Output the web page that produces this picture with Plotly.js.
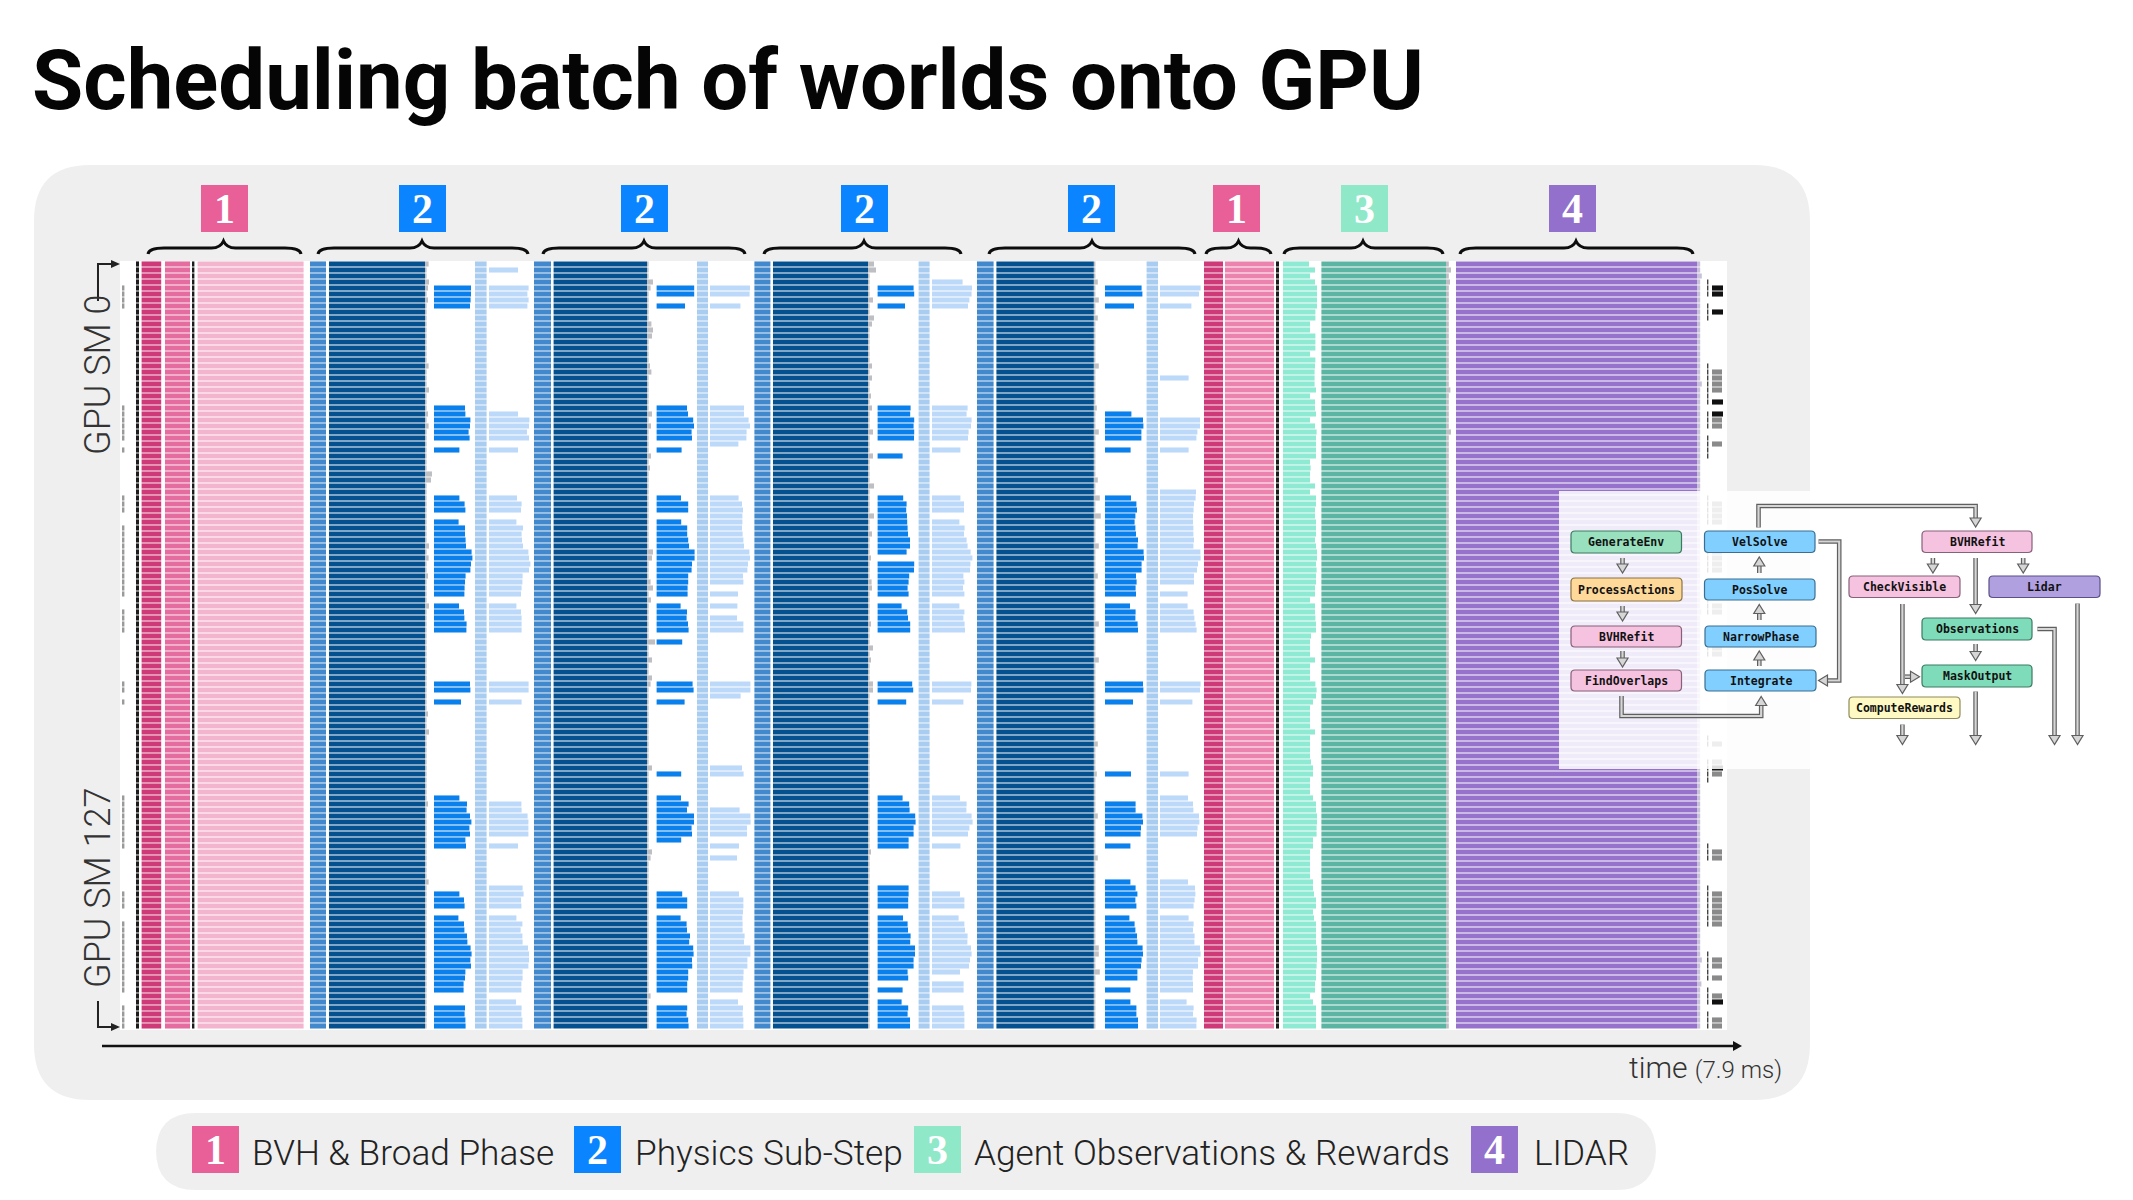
<!DOCTYPE html>
<html><head><meta charset="utf-8">
<script src="https://cdn.plot.ly/plotly-3.0.1.min.js"></script>
<style>html,body{margin:0;padding:0;background:#fff}#c{width:2133px;height:1200px}</style>
</head><body><div id="c"></div>
<script>
// Time is in microseconds, rows are GPU SM indices 0..127.
const sm = [];for(let i=0;i<128;i++)sm.push(i);
// ---- phases that look uniform over all rows: [start, duration, colour key]
const stripeA=[80,15], darkPink1=[108,98], pink1=[225,125], stripeB=[360,12], lightPink=[388,530];
const medBlue1=[950,80], darkBlue1=[1045,480], faint1=[1775,58];
const medBlue2=[2070,85], darkBlue2=[2168,467], faint2=[2885,55];
const medBlue3=[3172,80], darkBlue3=[3265,475], faint3=[3993,55];
const medBlue4=[4285,83], darkBlue4=[4382,487], faint4=[5133,57];
const darkPink2=[5420,95], pink2=[5525,245], stripeC=[5780,15];
const tealDark=[6007,623], purple=[6680,1205];
// ---- sub-step starts
const bright1Start=1570, light1Start=1845, bright2Start=2683, light2Start=2950;
const bright3Start=3788, light3Start=4060, bright4Start=4925, light4Start=5200, tealLightStart=5815;
// ---- per-row durations
const bright1Rows=[4,5,6,7,24,25,26,27,28,29,31,39,40,41,43,44,45,46,47,48,49,50,51,52,53,54,55,57,58,59,60,61,70,71,73,89,90,91,92,93,94,95,96,97,105,106,107,109,110,111,112,113,114,115,116,117,118,119,120,121,124,125,126,127];
const bright1Dur=[185,185,183,180,155,157,182,180,173,178,127,127,153,157,123,155,155,158,160,188,192,185,182,158,155,153,152,125,150,152,163,162,180,182,135,127,165,163,180,187,177,180,157,160,127,150,153,122,150,152,165,167,183,188,182,185,157,155,148,148,155,153,157,158];
const light1Rows=[1,4,5,6,7,25,26,27,28,29,31,39,40,41,43,44,45,46,47,48,49,50,51,52,53,54,55,57,58,59,60,61,70,71,73,90,91,92,93,94,95,97,104,105,106,107,109,110,111,112,113,114,115,116,117,118,119,120,121,123,124,125,126,127];
const light1Dur=[145,198,192,198,192,145,202,200,190,200,145,140,163,160,137,170,163,165,170,197,200,207,200,168,167,163,160,137,160,163,163,163,198,198,163,162,163,193,197,197,197,145,168,173,160,162,137,167,158,167,168,195,200,200,197,168,168,162,162,135,163,162,167,167];
const bright2Rows=[4,5,7,24,25,26,27,28,29,31,39,40,41,43,44,45,46,47,48,49,50,51,52,53,54,55,57,58,59,60,61,63,70,71,73,85,89,90,91,92,93,94,95,96,105,106,107,109,110,111,112,113,114,115,116,117,118,119,120,121,124,125,126,127];
const bright2Dur=[188,188,142,152,157,183,187,175,177,125,122,158,158,123,153,153,158,162,190,190,177,175,158,158,155,155,120,152,150,157,160,128,180,185,140,123,122,160,152,187,187,175,177,123,128,153,153,120,150,152,167,163,183,185,177,178,158,158,153,153,153,150,158,160];
const light2Rows=[4,5,7,24,25,26,27,28,29,30,39,40,41,42,43,44,45,46,47,48,49,50,51,52,53,55,57,59,60,61,70,71,72,84,85,91,92,93,94,95,97,99,105,106,107,108,109,110,111,112,113,114,115,116,117,118,119,120,121,123,124,125,126,127];
const light2Dur=[200,198,152,170,170,193,200,183,182,142,143,160,165,162,162,160,163,167,170,197,200,190,187,165,167,140,137,135,167,167,202,202,153,160,168,148,202,203,185,185,145,135,145,167,167,165,162,163,163,173,170,202,202,187,187,168,167,163,163,140,165,163,167,167];
const bright3Rows=[4,5,7,24,25,26,27,28,29,32,39,40,41,42,43,44,45,46,47,48,50,51,52,53,54,55,57,58,59,60,61,70,71,73,89,90,91,92,93,94,95,96,97,104,105,106,107,109,110,111,112,113,114,115,116,117,118,119,121,123,124,125,126,127];
const bright3Dur=[180,183,137,165,163,183,180,183,182,125,128,145,143,147,148,150,152,162,162,145,183,182,158,155,150,155,120,148,152,163,163,173,178,143,125,158,160,188,190,180,180,155,155,155,155,153,153,127,150,152,165,163,187,187,180,180,150,153,125,120,153,150,162,162];
const light3Rows=[3,4,5,6,7,24,25,26,27,28,29,31,39,40,41,43,44,45,46,47,48,49,50,51,52,53,54,55,57,58,59,60,61,70,71,73,89,90,91,92,93,94,95,97,105,106,107,109,110,111,112,113,114,115,116,117,118,120,121,124,125,126,127];
const light3Dur=[153,200,198,187,180,178,173,198,195,183,180,142,142,160,160,137,163,160,173,178,193,202,192,190,157,162,155,162,137,162,157,163,165,197,195,157,140,173,172,198,203,187,180,142,140,162,162,133,162,165,178,177,195,198,190,185,140,158,158,157,162,162,162];
const bright4Rows=[4,5,7,25,26,27,28,29,31,39,40,41,42,43,44,45,46,47,48,49,50,51,52,53,54,55,57,58,59,60,61,70,71,73,85,90,91,92,93,94,95,97,103,104,105,106,107,109,110,111,112,113,114,115,116,117,118,119,121,123,124,125,126,127];
const bright4Dur=[183,187,145,132,190,192,182,182,128,130,157,160,152,148,152,155,165,163,193,195,183,183,155,158,153,155,125,153,152,163,165,190,192,140,130,153,153,187,190,180,178,127,127,153,162,152,157,122,148,152,160,162,188,190,183,180,162,162,127,127,157,157,165,165];
const light4Rows=[4,5,7,19,26,27,28,29,31,38,39,40,41,42,43,44,45,46,47,48,49,50,51,52,53,55,57,58,59,60,61,70,71,73,85,89,90,91,92,93,94,95,103,104,105,106,107,109,110,111,112,113,114,115,116,117,118,119,120,121,123,124,125,126,127];
const light4Dur=[203,195,157,143,200,200,187,182,143,180,178,170,168,165,165,167,167,170,167,202,203,190,185,170,170,138,138,168,172,178,183,203,200,162,143,140,165,167,195,197,188,185,140,175,177,173,168,143,168,165,173,172,200,203,190,190,165,163,165,165,133,168,165,183,182];
const tealLightDur=[130,160,135,160,170,170,170,170,162,162,135,135,162,162,162,135,162,160,158,158,158,165,135,160,160,165,135,160,168,165,165,165,165,135,138,135,135,160,135,165,165,160,160,165,165,165,160,165,170,170,165,168,165,165,160,160,135,160,160,162,165,165,140,135,135,135,160,135,135,135,162,168,165,150,135,135,135,135,160,135,135,135,135,140,150,150,135,135,135,150,165,165,170,170,168,168,150,150,135,135,135,135,135,150,150,155,165,165,150,155,165,165,165,165,170,170,170,168,165,165,160,160,135,150,165,165,165,165];
// grey row-end tails seen past the dense bars
const tail2Rows=[3,4,10,11,12,17,18,25,27,32,34,48,49,53,54,56,63,66,69,70,84,98,99,122];
const tail2Dur=[30,18,22,30,25,15,22,25,20,20,15,30,25,18,30,20,40,25,25,18,25,25,18,18];
const tail1Rows=[0,3,4,6,17,21,25,27,35,36,47,49,52,57,75,78,90,103];
const tail1Dur=[18,20,15,15,18,20,15,18,35,30,20,18,15,20,15,20,15,18];
const tail3Rows=[0,1,6,9,10,17,19,22,24,28,32,37,42,45,49,53,54,60,64,66,70,71,98];
const tail3Dur=[30,40,25,30,20,20,20,15,20,25,25,30,30,20,15,18,20,15,25,15,25,25,15];
const tail4Rows=[3,6,9,17,24,28,36,39,42,47,52,60,66,80,85,92,99,114,115,118];
const tail4Dur=[20,25,20,25,15,25,20,30,35,25,20,25,25,20,15,20,20,25,25,30];
const leftTickRows=[4,5,6,7,24,25,26,27,28,29,31,39,40,41,44,45,46,47,48,49,50,51,52,53,54,55,58,59,60,61,70,71,73,89,90,91,92,93,94,95,96,97,105,106,107,110,111,112,113,114,115,116,117,118,119,120,121,124,125,126,127];
const rightDarkRows=[4,5,8,23,25,84,123];
const rightGreyRows=[18,19,20,21,26,27,30,40,41,42,43,48,49,50,51,57,58,64,65,80,83,85,98,99,105,106,107,108,109,110,116,117,119,122,126,127];
const rightDashRows=[3,4,5,7,8,9,17,18,19,20,21,22,23,25,26,27,29,30,31,32,39,40,41,42,43,47,48,49,50,51,56,57,58,63,64,65,79,80,83,84,85,86,97,98,99,104,105,106,107,108,109,110,115,116,117,118,119,121,122,123,125,126,127];
// ---- labels
const badges=['1','2','2','2','2','1','3','4'];
const legendLabels=['BVH & Broad Phase','Physics Sub-Step','Agent Observations & Rewards','LIDAR'];
const nodes=['GenerateEnv','ProcessActions','BVHRefit','FindOverlaps','VelSolve','PosSolve','NarrowPhase','Integrate','BVHRefit','CheckVisible','Lidar','Observations','MaskOutput','ComputeRewards'];

// ---- colours
const C={black:'#1c1c1c',dpink:'#CE3A78',pink:'#E56C9F',lpink:'#F3B4CE',med:'#4188CC',dark:'#05508F',bright:'#0A80EC',faint:'#A9CDF1',light:'#BDD9F9',
 tl:'#8EEAD3',td:'#5CB5A2',pur:'#9672CC',tail:'#BDBFC2',ptail:'#C9C0DA',b1:'#E86097',b2:'#0A84FF',b3:'#8FE8C8',b4:'#9370CB',gray:'#EFEFEF'};

const traces=[];
function seg(rows,base,dur,color){
  traces.push({type:'bar',orientation:'h',y:rows,x:dur,base:base,marker:{color:color,line:{width:0}},hoverinfo:'skip',showlegend:false});
}
function dense(ph,color){seg(sm,sm.map(()=>ph[0]),sm.map(()=>ph[1]),color);}
function tailRows(ph,rows,dur,color,allDur){
  const end=ph[0]+ph[1];
  seg(sm,sm.map(()=>end),sm.map(r=>{const i=rows.indexOf(r);return i<0?allDur:dur[i];}),color);
}
function sparse(rows,start,dur,color){seg(rows,rows.map(()=>start),dur,color);}
function ticks(rows,start,len,color){seg(rows,rows.map(()=>start),rows.map(()=>len),color);}

ticks(leftTickRows,10,12,'#9a9a9a');
dense(stripeA,C.black);dense(darkPink1,C.dpink);dense(pink1,C.pink);dense(stripeB,C.black);dense(lightPink,C.lpink);
dense(medBlue1,C.med);tailRows(darkBlue1,tail1Rows,tail1Dur,C.tail,8);dense(darkBlue1,C.dark);sparse(bright1Rows,bright1Start,bright1Dur,C.bright);dense(faint1,C.faint);sparse(light1Rows,light1Start,light1Dur,C.light);
dense(medBlue2,C.med);tailRows(darkBlue2,tail2Rows,tail2Dur,C.tail,8);dense(darkBlue2,C.dark);sparse(bright2Rows,bright2Start,bright2Dur,C.bright);dense(faint2,C.faint);sparse(light2Rows,light2Start,light2Dur,C.light);
dense(medBlue3,C.med);tailRows(darkBlue3,tail3Rows,tail3Dur,C.tail,8);dense(darkBlue3,C.dark);sparse(bright3Rows,bright3Start,bright3Dur,C.bright);dense(faint3,C.faint);sparse(light3Rows,light3Start,light3Dur,C.light);
dense(medBlue4,C.med);tailRows(darkBlue4,tail4Rows,tail4Dur,C.tail,8);dense(darkBlue4,C.dark);sparse(bright4Rows,bright4Start,bright4Dur,C.bright);dense(faint4,C.faint);sparse(light4Rows,light4Start,light4Dur,C.light);
dense(darkPink2,C.dpink);dense(pink2,'#EC82AE');dense(stripeC,C.black);
seg(sm,sm.map(()=>tealLightStart),tealLightDur,C.tl);
tailRows(tealDark,[1,3,21,28],[25,20,22,25],C.tail,14);dense(tealDark,C.td);
tailRows(purple,[2,20,58,116,120],[24,24,22,24,22],C.ptail,16);dense(purple,C.pur);
ticks(rightDashRows,7935,7,'#444');
ticks(rightGreyRows,7960,50,'#8a8a8a');
ticks(rightDarkRows,7960,55,'#111');

// ---- page furniture, given in page pixels
const W=2133,H=1200;
const px=x=>x/W, py=y=>1-y/H;
const P=(x,y)=>px(x).toFixed(5)+','+py(y).toFixed(5);
function rrect(x0,y0,x1,y1,r){
  return 'M'+P(x0+r,y0)+' L'+P(x1-r,y0)+' Q'+P(x1,y0)+' '+P(x1,y0+r)+' L'+P(x1,y1-r)+' Q'+P(x1,y1)+' '+P(x1-r,y1)+
   ' L'+P(x0+r,y1)+' Q'+P(x0,y1)+' '+P(x0,y1-r)+' L'+P(x0,y0+r)+' Q'+P(x0,y0)+' '+P(x0+r,y0)+' Z';
}
const shapes=[],ann=[];
function addPath(path,fill,lineColor,lw,layer,opacity){
  shapes.push({type:'path',xref:'paper',yref:'paper',path:path,fillcolor:fill||'rgba(0,0,0,0)',line:{color:lineColor||'rgba(0,0,0,0)',width:lw||0},layer:layer||'above',opacity:opacity==null?1:opacity});
}
function label(x,y,text,size,color,family,anchor,angle,weight){
  ann.push({xref:'paper',yref:'paper',x:px(x),y:py(y),text:text,showarrow:false,xanchor:anchor||'center',yanchor:'middle',textangle:angle||0,
    font:{size:size,color:color,family:family,weight:weight||'normal'},borderpad:0,borderwidth:0});
}
addPath(rrect(34,165,1810,1100,56),C.gray,null,0,'below');
addPath(rrect(156,1113,1656,1190,40),C.gray,null,0,'below');
addPath(rrect(120,261,1727,1030,0.01),'#ffffff',null,0,'below');

// badges and braces
const badgeBoxes=[[201,C.b1],[399,C.b2],[621,C.b2],[841,C.b2],[1068,C.b2],[1213,C.b1],[1341,C.b3],[1549,C.b4]];
const SERIF='"Liberation Serif","DejaVu Serif",serif';
badgeBoxes.forEach((b,i)=>{addPath(rrect(b[0],185,b[0]+47,232,0.01),b[1],null,0,'above');label(b[0]+23.5,209,'<b>'+badges[i]+'</b>',42,'#fff',SERIF);});
const braces=[[148,223.5,301],[318,422,528],[543,644,745],[764,864,961],[989,1092,1195],[1206,1238.5,1271],[1284,1363,1443],[1460,1576,1693]];
braces.forEach(b=>{
  const [a,k,c]=b;
  addPath('M'+P(a,254)+' Q'+P(a+1,248)+' '+P(a+16,248)+' L'+P(k-12,248)+' Q'+P(k-3,248)+' '+P(k,241)+' Q'+P(k+3,248)+' '+P(k+12,248)+' L'+P(c-16,248)+' Q'+P(c-1,248)+' '+P(c,254),null,'#0d0d0d',3,'above');
});

// axis arrows
function poly(pts,fill,lc,lw){addPath('M'+pts.map(p=>P(p[0],p[1])).join(' L')+' Z',fill,lc,lw);}
addPath('M'+P(102,1046)+' L'+P(1734,1046),null,'#111',2.5);
poly([[1733,1041],[1742,1046],[1733,1051]],'#111');
addPath('M'+P(98,301)+' L'+P(98,264)+' L'+P(112,264),null,'#222',2);
poly([[111,260],[120,264],[111,268]],'#222');
addPath('M'+P(98,1001)+' L'+P(98,1027)+' L'+P(112,1027),null,'#222',2);
poly([[111,1023],[120,1027],[111,1031]],'#222');
const LIGHT='Roboto,sans-serif';
label(98,375,'GPU SM 0',36,'#333',LIGHT,'center',-90,300);
label(98,888,'GPU SM 127',36,'#333',LIGHT,'center',-90,300);
label(1782,1067,'time <span style="font-size:24px;">(7.9 ms)</span>',30,'#333',LIGHT,'right',0,300);

// legend
const legendItems=[[192,C.b1,252],[574,C.b2,635],[914,C.b3,974],[1471,C.b4,1534]];
const legendNums=['1','2','3','4'];
legendItems.forEach((it,i)=>{
  addPath(rrect(it[0],1126,it[0]+47,1173,0.01),it[1],null,0,'above');
  label(it[0]+23.5,1150,'<b>'+legendNums[i]+'</b>',42,'#fff',SERIF);
  label(it[2],1153,legendLabels[i],35.2,'#222',LIGHT,'left',0,300);
});

// inset
addPath(rrect(1559,491,1816,769,0.01),'#ffffff',null,0,'above',0.86);
const nodeBoxes=[
 [1571,531,1681.5,553,'#98E0BE','#3d7a63'],[1571,578,1682,601,'#FFD999','#8a7440'],[1571,626,1681.5,647,'#F5C2E0','#87607a'],[1571,670,1681.5,691,'#F5C2E0','#87607a'],
 [1704.5,531,1815,552.5,'#80CFFF','#3a6f92'],[1704.5,579,1815,600,'#80CFFF','#3a6f92'],[1705,626,1816,647,'#80CFFF','#3a6f92'],[1705,670,1816,691,'#80CFFF','#3a6f92'],
 [1922,531,2032,552.5,'#F5C2E0','#87607a'],[1849,576,1960,597.5,'#F5C2E0','#87607a'],[1989,576,2100,597.5,'#B0A0E0','#5b4f86'],
 [1922,618,2032,640,'#7FDCBA','#3d7a63'],[1922,665,2032,687,'#7FDCBA','#3d7a63'],[1849,697,1960,718.5,'#FFF9C4','#8f8a5a']];
const MONO='"DejaVu Sans Mono","Liberation Mono",monospace';
nodeBoxes.forEach((b,i)=>{
  addPath(rrect(b[0],b[1],b[2],b[3],4),b[4],b[5],1.2);
  label((b[0]+b[2])/2,(b[1]+b[3])/2,'<b>'+nodes[i]+'</b>',11.5,'#111',MONO);
});
function flow(pts){
  const n=pts.length,last=pts[n-1],prev=pts[n-2];
  const dx=Math.sign(last[0]-prev[0]),dy=Math.sign(last[1]-prev[1]);
  const hl=9,hw=5.5;
  const neck=[last[0]-dx*hl,last[1]-dy*hl];
  const body=pts.slice(0,n-1).concat([neck]);
  const d='M'+body.map(p=>P(p[0],p[1])).join(' L');
  addPath(d,null,'#5f5f5f',4.6);
  addPath(d,null,'#d6d6d6',2.2);
  poly([last,[neck[0]-dy*hw,neck[1]-dx*hw],[neck[0]+dy*hw,neck[1]+dx*hw]],'#d6d6d6','#5f5f5f',1.2);
}
[[[1622.5,558],[1622.5,573]],[[1622.5,606],[1622.5,621]],[[1622.5,651],[1622.5,667]],
 [[1759.3,573],[1759.3,557]],[[1759.3,620],[1759.3,604.5]],[[1759.3,666],[1759.3,651]],
 [[1758.5,527.5],[1758.5,506],[1975.6,506],[1975.6,527]],
 [[1818.5,541.5],[1839.2,541.5],[1839.2,680.5],[1818.5,680.5]],
 [[1621.5,696],[1621.5,716],[1761.2,716],[1761.2,696.5]],
 [[1932.9,558],[1932.9,573]],[[2023.2,558],[2023.2,573]],[[1975.6,558],[1975.6,613.5]],[[1975.6,644],[1975.6,660.5]],
 [[2037.4,629],[2054.5,629],[2054.5,744.5]],[[2077.5,603.5],[2077.5,744.5]],[[1902.4,604],[1902.4,693.5]],[[1905,676.7],[1919.5,676.7]],
 [[1902.4,724.5],[1902.4,744.5]],[[1975.6,691.5],[1975.6,744.5]]].forEach(flow);

const layout={
  width:W,height:H,margin:{l:0,r:0,t:0,b:0,pad:0},paper_bgcolor:'#fff',plot_bgcolor:'rgba(0,0,0,0)',
  title:{text:'<b>Scheduling batch of worlds onto GPU</b>',x:px(32),xref:'paper',xanchor:'left',y:py(80),yref:'paper',yanchor:'middle',font:{family:'Roboto,sans-serif',size:83.3,color:'#050505'}},
  barmode:'overlay',bargap:0.15,
  xaxis:{domain:[px(120),px(1727)],range:[0,8035],visible:false,fixedrange:true},
  yaxis:{domain:[py(1030),py(261)],range:[127.67,-0.5],visible:false,fixedrange:true},
  shapes:shapes,annotations:ann,showlegend:false
};
Plotly.newPlot('c',traces,layout,{displayModeBar:false,staticPlot:true});
</script></body></html>
